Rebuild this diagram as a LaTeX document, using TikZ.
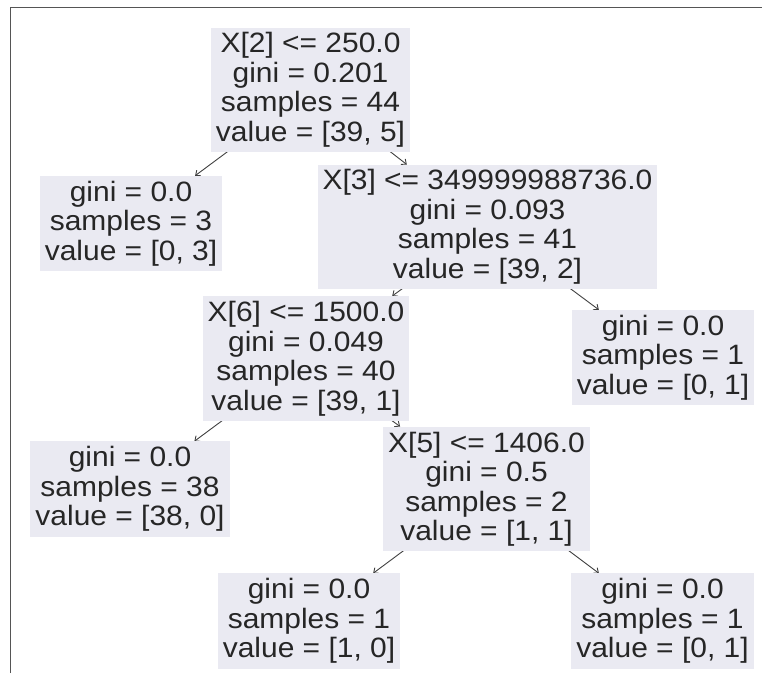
\documentclass[tikz,border=0pt]{standalone}
\usepackage{fontspec}
\setmainfont[FakeStretch=1.07]{Liberation Sans}
\usetikzlibrary{backgrounds,arrows.meta}
\definecolor{BoxClr}{RGB}{234,234,242}
\definecolor{FrameClr}{RGB}{85,85,85}

\begin{document}
\begin{tikzpicture}[x=1pt,y=-1pt,
  treenode/.style={fill=BoxClr,align=center,inner xsep=5pt,inner ysep=5pt,
    font=\fontsize{28}{29.5}\selectfont,text=black!85},
  treeedge/.style={black!75,line width=0.9pt,-{Straight Barb[length=4pt,width=7pt]}}]
\useasboundingbox (0,0) rectangle (762,673);
\draw[FrameClr,line width=1.5pt] (10.5,673) |- (762,7.5);

% split nodes
\node[treenode] (splitA) at (310.5,90) {X[2] <= 250.0\\gini = 0.201\\samples = 44\\value = [39, 5]};
\node[treenode] (splitB) at (487.5,227) {X[3] <= 349999988736.0\\gini = 0.093\\samples = 41\\value = [39, 2]};
\node[treenode] (splitC) at (306,358.5) {X[6] <= 1500.0\\gini = 0.049\\samples = 40\\value = [39, 1]};
\node[treenode] (splitD) at (486.5,489) {X[5] <= 1406.0\\gini = 0.5\\samples = 2\\value = [1, 1]};

% leaves
\node[treenode] (leafA) at (131,223.5) {gini = 0.0\\samples = 3\\value = [0, 3]};
\node[treenode] (leafB) at (663,357.5) {gini = 0.0\\samples = 1\\value = [0, 1]};
\node[treenode] (leafC) at (130,489) {gini = 0.0\\samples = 38\\value = [38, 0]};
\node[treenode] (leafD) at (309,621) {gini = 0.0\\samples = 1\\value = [1, 0]};
\node[treenode] (leafE) at (662.5,621) {gini = 0.0\\samples = 1\\value = [0, 1]};

\begin{scope}[on background layer]
\draw[treeedge] (splitA.center) -- (leafA);
\draw[treeedge] (splitA.center) -- (splitB);
\draw[treeedge] (splitB.center) -- (splitC);
\draw[treeedge] (splitB.center) -- (leafB);
\draw[treeedge] (splitC.center) -- (leafC);
\draw[treeedge] (splitC.center) -- (splitD);
\draw[treeedge] (splitD.center) -- (leafD);
\draw[treeedge] (splitD.center) -- (leafE);
\end{scope}

\end{tikzpicture}
\end{document}
